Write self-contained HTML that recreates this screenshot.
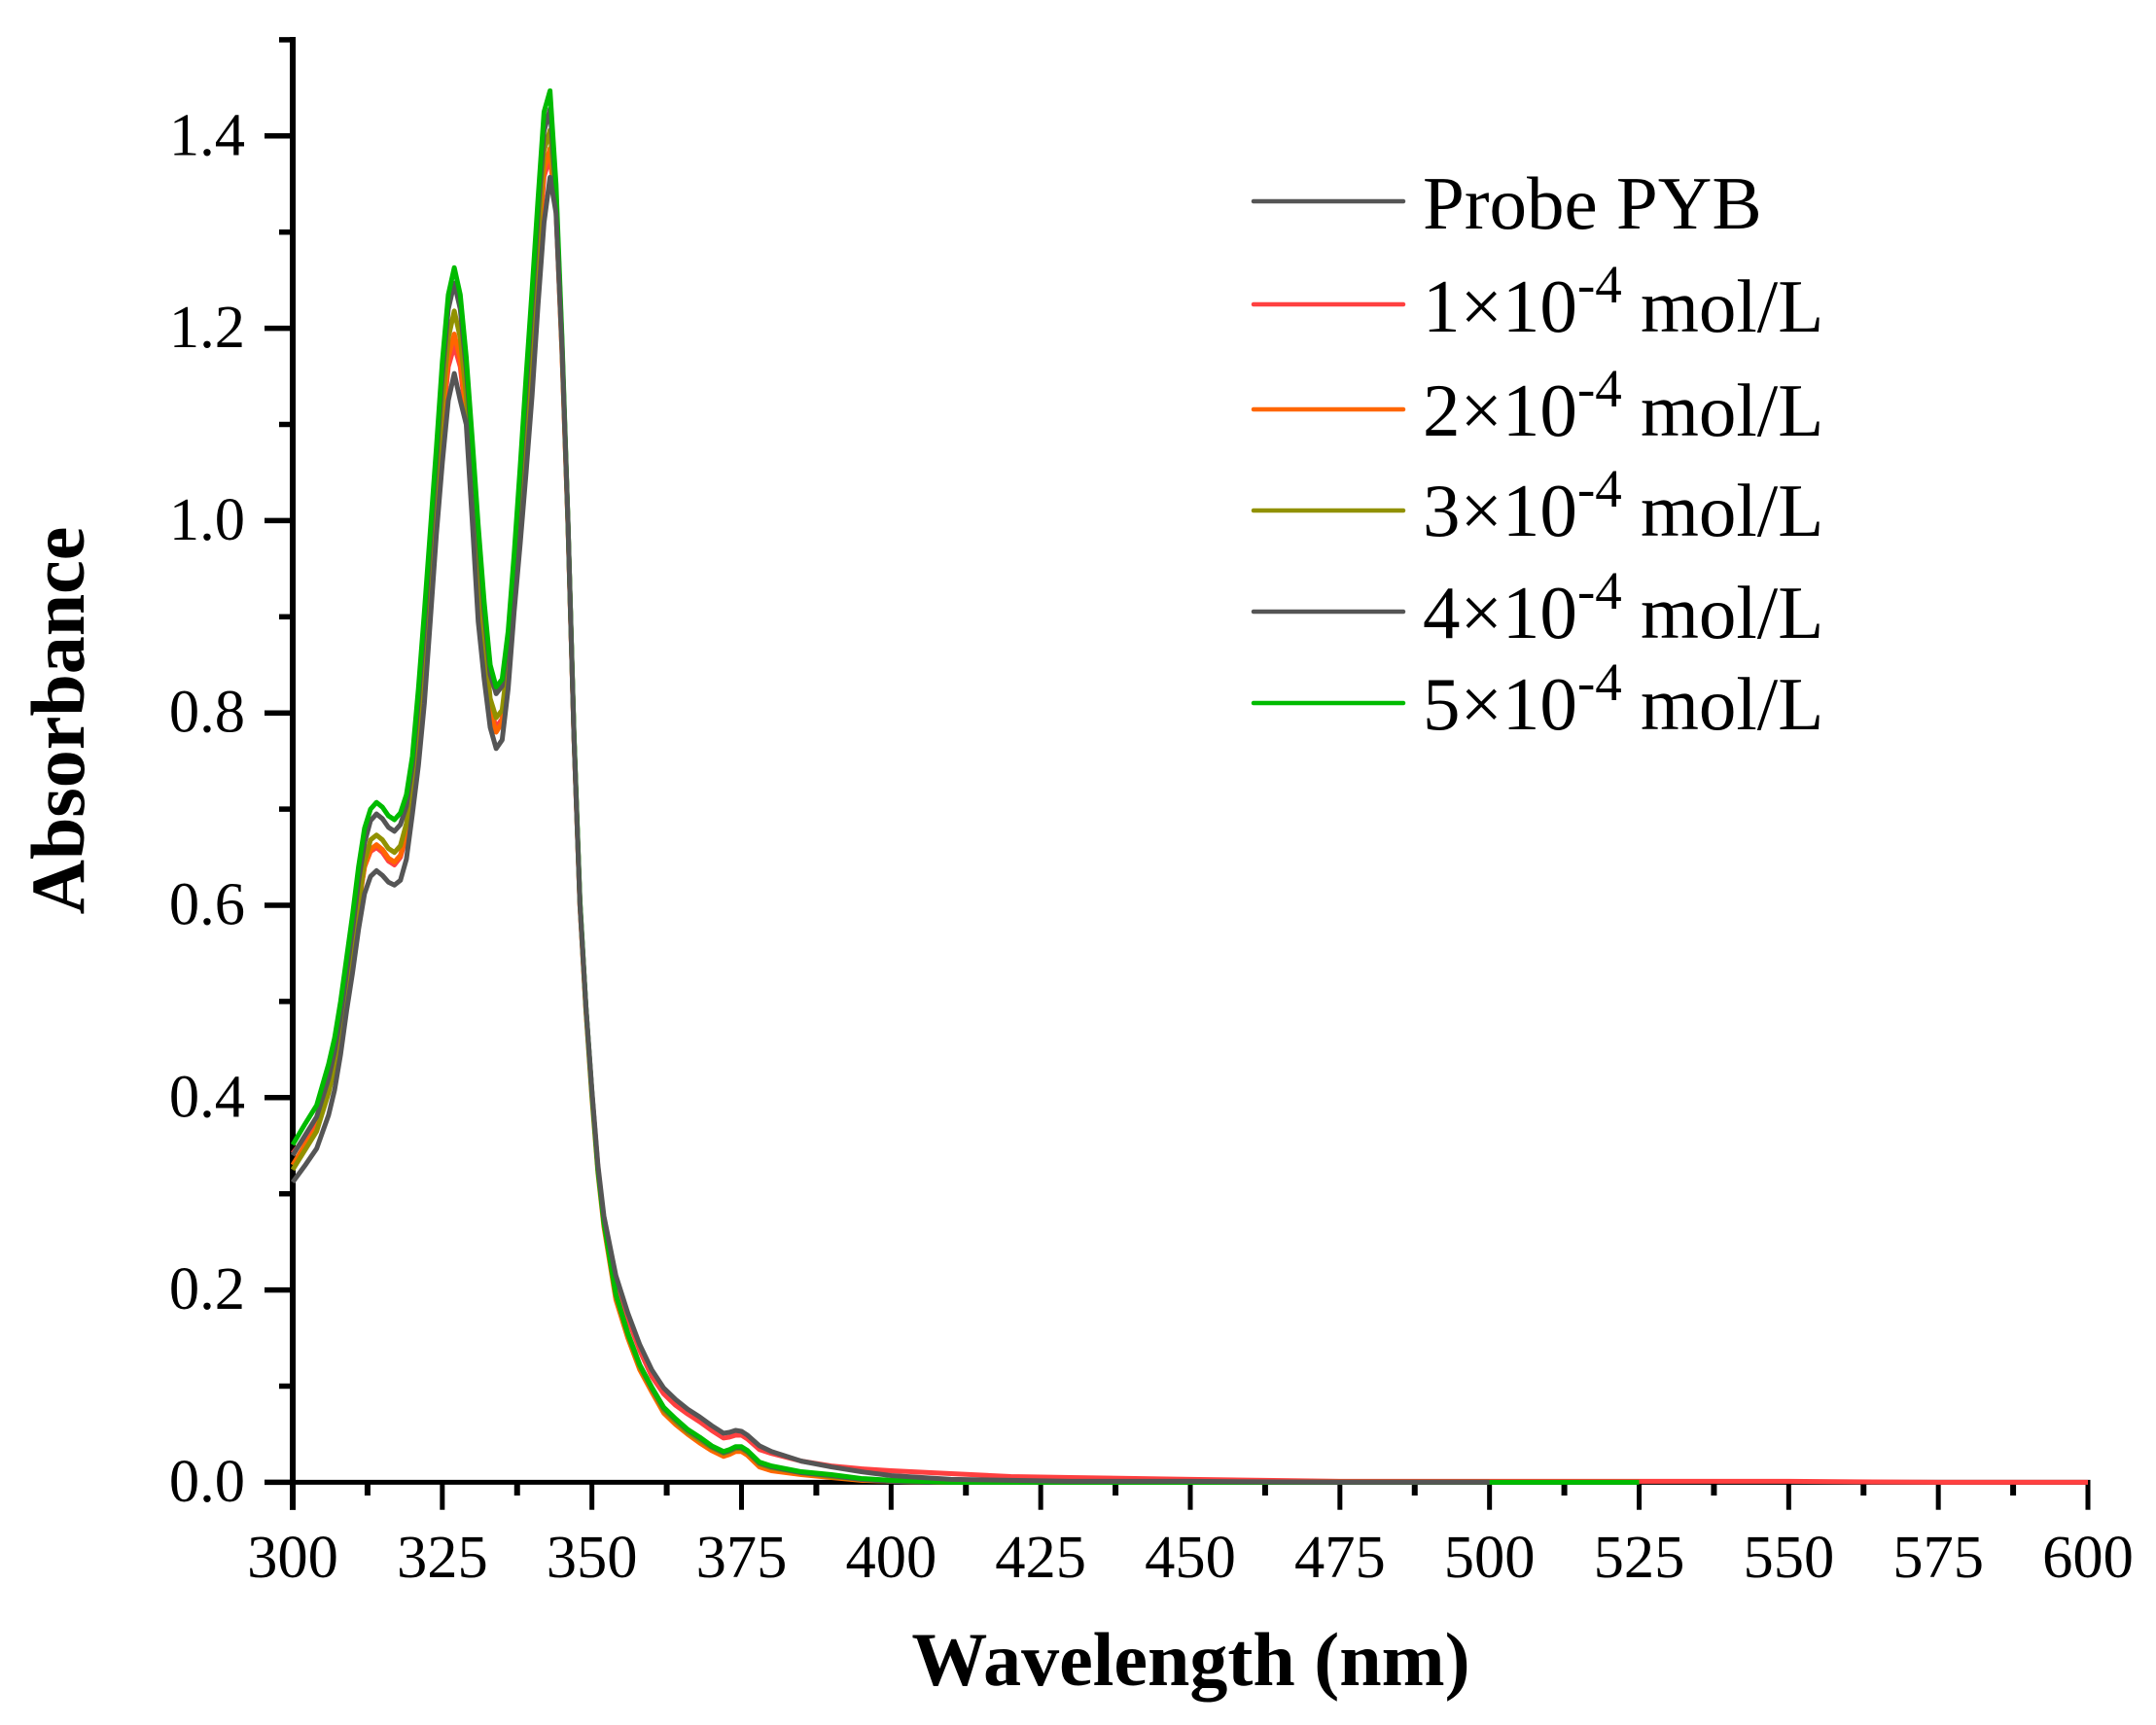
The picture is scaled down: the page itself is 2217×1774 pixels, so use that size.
<!DOCTYPE html>
<html lang="en">
<head>
<meta charset="utf-8">
<title>Absorbance vs Wavelength</title>
<style>
  html, body { margin: 0; padding: 0; background: #ffffff; }
  svg { display: block; }
  text { font-family: "Liberation Serif", "Times New Roman", serif; fill: #000000; white-space: pre; }
  .tick { font-size: 62.5px; }
  .legend { font-size: 77px; }
  .sup { font-size: 55px; }
  .title { font-size: 78px; font-weight: bold; }
</style>
</head>
<body>
<svg id="chart" xmlns="http://www.w3.org/2000/svg" width="2217" height="1774" viewBox="0 0 2217 1774">
  <rect x="0" y="0" width="2217" height="1774" fill="#ffffff"/>
  <g id="axes"></g>
  <g id="series"></g>
  <text class="title" x="1224.5" y="1733" text-anchor="middle">Wavelength (nm)</text>
  <text class="title" transform="translate(86,741) rotate(-90)" text-anchor="middle">Absorbance</text>
  <g>
    <line x1="1289" x2="1443" y1="207" y2="207" stroke="#555555" stroke-width="4.5" stroke-linecap="round"/>
    <text class="legend" x="1463" y="235">Probe PYB</text>
    <line x1="1289" x2="1443" y1="313" y2="313" stroke="#ff4040" stroke-width="4.5" stroke-linecap="round"/>
    <text class="legend" x="1463" y="341">1×10<tspan class="sup" dy="-30">-4</tspan><tspan dy="30"> mol/L</tspan></text>
    <line x1="1289" x2="1443" y1="421" y2="421" stroke="#ff6600" stroke-width="4.5" stroke-linecap="round"/>
    <text class="legend" x="1463" y="448">2×10<tspan class="sup" dy="-30">-4</tspan><tspan dy="30"> mol/L</tspan></text>
    <line x1="1289" x2="1443" y1="525" y2="525" stroke="#919100" stroke-width="4.5" stroke-linecap="round"/>
    <text class="legend" x="1463" y="551">3×10<tspan class="sup" dy="-30">-4</tspan><tspan dy="30"> mol/L</tspan></text>
    <line x1="1289" x2="1443" y1="629" y2="629" stroke="#555555" stroke-width="4.5" stroke-linecap="round"/>
    <text class="legend" x="1463" y="656">4×10<tspan class="sup" dy="-30">-4</tspan><tspan dy="30"> mol/L</tspan></text>
    <line x1="1289" x2="1443" y1="723" y2="723" stroke="#00bb00" stroke-width="4.5" stroke-linecap="round"/>
    <text class="legend" x="1463" y="750">5×10<tspan class="sup" dy="-30">-4</tspan><tspan dy="30"> mol/L</tspan></text>
  </g>
</svg>
<script>
const wavelengths = [300,302,304,306,
  307,308,309,310,311,312,313,314,315,316,
  317,318,319,320,321,322,323,324,325,326,
  327,328,329,330,331,332,333,334,335,336,
  337,338,339,340,341,342,343,344,345,346,
  347,348,349,350,351,352,
  354,356,358,360,362,364,366,368,370,372,
  373,374,375,376,
  378,380,
  385,390,395,400,
  410,420,430,
  450,475,500,525,550,575,600];

const seriesProbe = [.312,.329,.347,.382,
  .408,.445,.490,.530,.575,.612,.630,.636,.631,.624,
  .621,.626,.648,.695,.745,.810,.897,.985,1.060,1.125,
  1.153,1.125,1.100,1.000,.895,.835,.785,.763,.772,.825,
  .905,.975,1.050,1.130,1.225,1.310,1.357,1.320,1.180,.999,
  .775,.601,.495,.4075,.33,.277,
  .215,.176,.143,.117,.098,.086,.076,.068,.059,.051,
  .052,.054,.053,.049,
  .038,.032,
  .022,.016,.011,.007,
  .003,.002,.001,
  .001,0,0];

const series1 = [.342,.358,.372,.410,
  .437,.472,.513,.553,.600,.640,.656,.660,.655,.646,
  .642,.650,.672,.716,.783,.858,.938,1.020,1.098,1.160,
  1.182,1.160,1.105,1.032,.948,.870,.805,.785,.794,.845,
  .925,1.010,1.098,1.188,1.275,1.358,1.378,1.322,1.175,.995,
  .775,.600,.492,.404,.328,.272,
  .203,.170,.137,.110,.092,.080,.071,.063,.054,.046,
  .047,.049,.049,.045,
  .034,.030,
  .022,.017,.014,.012,
  .009,.006,.005,
  .003,.001,.001,.001,.001,0,0];

const series2 = [.330,.350,.368,.408,
  .435,.470,.512,.553,.600,.640,.658,.663,.658,.649,
  .645,.652,.675,.720,.788,.862,.942,1.025,1.105,1.170,
  1.194,1.168,1.110,1.035,.950,.870,.802,.780,.790,.842,
  .925,1.010,1.100,1.190,1.280,1.365,1.387,1.325,1.175,.995,
  .775,.600,.490,.400,.322,.266,
  .190,.150,.117,.094,.072,.060,.050,.041,.033,.027,
  .029,.032,.032,.028,
  .016,.012,
  .008,.005,.002,.001,
  0,0,0,
  0,0,0];

const series3 = [.325,.345,.365,.405,
  .432,.468,.510,.552,.600,.645,.668,.673,.668,.659,
  .655,.662,.685,.728,.795,.870,.950,1.035,1.120,1.190,
  1.218,1.190,1.130,1.050,.960,.880,.815,.795,.803,.855,
  .935,1.020,1.110,1.200,1.295,1.385,1.406,1.330,1.180,.997,
  .777,.602,.492,.403,.325,.270,
  .195,.153,.120,.097,.075,.063,.052,.044,.036,.030,
  .032,.035,.035,.031,
  .019,.015,
  .010,.006,.003,.001,
  0,0,0,
  0,0,0];

const series4 = [.340,.360,.380,.420,
  .448,.485,.530,.575,.625,.665,.688,.695,.690,.681,
  .677,.684,.703,.745,.812,.890,.978,1.062,1.150,1.220,
  1.247,1.220,1.158,1.075,.985,.905,.840,.820,.828,.878,
  .955,1.045,1.135,1.225,1.320,1.405,1.428,1.340,1.185,.998,
  .778,.604,.494,.405,.326,.271,
  .196,.155,.122,.098,.077,.065,.054,.046,.037,.031,
  .033,.036,.036,.032,
  .020,.016,
  .010,.007,.003,.001,
  0,0,0,
  0,0,0];

const series5 = [.351,.372,.392,.435,
  .462,.500,.545,.590,.640,.680,.700,.707,.702,.693,
  .689,.696,.715,.755,.825,.905,.990,1.075,1.165,1.235,
  1.263,1.235,1.170,1.085,.995,.915,.850,.827,.835,.885,
  .965,1.055,1.150,1.240,1.335,1.425,1.447,1.350,1.190,1.000,
  .780,.605,.495,.405,.325,.270,
  .195,.155,.122,.099,.078,.066,.055,.047,.038,.032,
  .034,.037,.037,.033,
  .021,.017,
  .011,.008,.004,.002,
  0,0,0,
  0,0,0,0];

const xMajorTicks = [300,325,350,375,400,425,450,475,500,525,550,575,600];
const xMinorTicks = [312.5,337.5,362.5,387.5,412.5,437.5,462.5,487.5,512.5,537.5,562.5,587.5];
const yMajorTicks = [0,0.2,0.4,0.6,0.8,1.0,1.2,1.4];
const yMinorTicks = [0.1,0.3,0.5,0.7,0.9,1.1,1.3,1.5];

const NS = 'http://www.w3.org/2000/svg';
function xScale(w) { return 301 + (w - 300) * (2147 - 301) / 300; }
function yScale(v) { return 1524.4 - v * 989; }

function addLine(parent, x1, y1, x2, y2, width, color) {
  const l = document.createElementNS(NS, 'line');
  l.setAttribute('x1', x1);
  l.setAttribute('y1', y1);
  l.setAttribute('x2', x2);
  l.setAttribute('y2', y2);
  l.setAttribute('stroke', color);
  l.setAttribute('stroke-width', width);
  parent.appendChild(l);
  return l;
}
function addLabel(parent, x, y, anchor, str) {
  const t = document.createElementNS(NS, 'text');
  t.setAttribute('class', 'tick');
  t.setAttribute('x', x);
  t.setAttribute('y', y);
  t.setAttribute('text-anchor', anchor);
  t.textContent = str;
  parent.appendChild(t);
  return t;
}

const axes = document.getElementById('axes');

const yAxisLine = addLine(axes, 301, 38, 301, 1552.7, 6, '#000');



const xAxisLine = addLine(axes, 298, 1524.4, 2149.5, 1524.4, 5, '#000');



xMajorTicks.forEach(function (w) {
  const tick = addLine(axes, xScale(w), 1524, xScale(w), 1552.7, w === 300 ? 6 : 5, '#000');
  
  
  const label = addLabel(axes, xScale(w), 1622, 'middle', String(w));
  
  
});
xMinorTicks.forEach(function (w) {
  const tick = addLine(axes, xScale(w), 1524, xScale(w), 1538, 6, '#000');
  
  
});
yMajorTicks.forEach(function (v) {
  const tick = addLine(axes, 272, yScale(v), 301, yScale(v), 5.5, '#000');
  
  
  const label = addLabel(axes, 252, yScale(v) + 19.5, 'end', v.toFixed(1));
  
  
});
yMinorTicks.forEach(function (v) {
  const tick = addLine(axes, 287, yScale(v), 301, yScale(v), 5.5, '#000');
  
  
});

function drawSeries(values, color, width) {
  let d = '';
  for (let i = 0; i < values.length; i++) {
    d += (i ? 'L' : 'M') + xScale(wavelengths[i]).toFixed(2) + ' ' + yScale(values[i]).toFixed(2);
  }
  const p = document.createElementNS(NS, 'path');
  p.setAttribute('d', d);
  p.setAttribute('fill', 'none');
  p.setAttribute('stroke', color);
  p.setAttribute('stroke-width', width);
  p.setAttribute('stroke-linejoin', 'round');
  document.getElementById('series').appendChild(p);
  return p;
}

const line1 = drawSeries(series1, '#ff4040', 5);


const line2 = drawSeries(series2, '#ff6600', 5);


const line3 = drawSeries(series3, '#919100', 5);


const line4 = drawSeries(series4, '#555555', 5);


const line5 = drawSeries(series5, '#00bb00', 5);


const lineProbe = drawSeries(seriesProbe, '#555555', 5);


</script>
</body>
</html>
